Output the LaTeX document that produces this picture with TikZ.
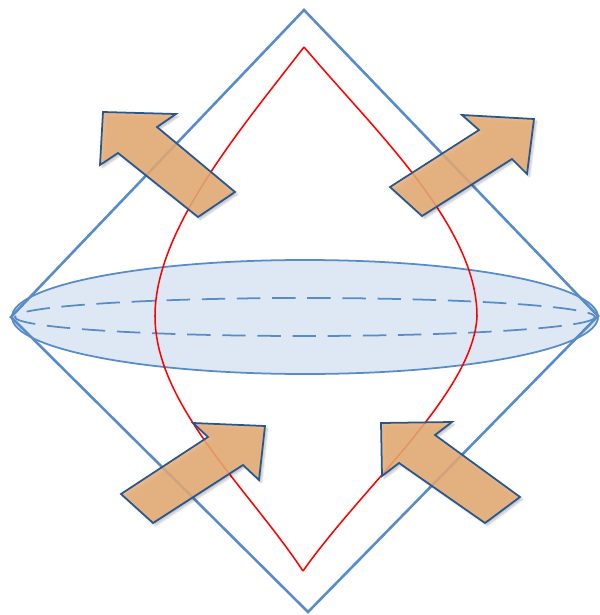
\documentclass[tikz,border=0pt]{standalone}
\usetikzlibrary{shadows.blur}
\definecolor{lineblue}{RGB}{88,140,200}
\definecolor{discfill}{RGB}{222,232,244}
\definecolor{arrowfill}{RGB}{234,174,118}
\definecolor{arrowline}{RGB}{40,86,142}
\begin{document}
\begin{tikzpicture}[x=0.03cm, y=-0.03cm,
    diamondline/.style={line width=2.2pt, lineblue, line join=miter},
    discline/.style={line width=1.5pt, lineblue},
    redline/.style={line width=1.3pt, red},
    pusharrow/.style={line width=1.5pt, draw=arrowline, fill=arrowfill,
      fill opacity=0.85, line join=miter,
      blur shadow={shadow xshift=2pt, shadow yshift=-2pt, shadow blur steps=6, shadow opacity=25}}]
  % 画布（按像素坐标，y 向下）
  \useasboundingbox (0,0) rectangle (600,615);

  % 中心与半轴
  \def\cx{305}
  \def\cy{317}

  % 1. 中间的扁椭圆（圆盘）
  \fill[discfill] (\cx,\cy) ellipse [x radius=293, y radius=57];
  \draw[discline, dash pattern=on 20pt off 10pt] (\cx,\cy) ellipse [x radius=290, y radius=19];
  \draw[discline] (\cx,\cy) ellipse [x radius=293, y radius=57];

  % 2. 外面的菱形
  \draw[diamondline] (304,10) -- (598,316) -- (308,612) -- (11,317) -- cycle;

  % 3. 红色的曲边轮廓
  % 左半边：上顶点 -> 最左 -> 下顶点
  \draw[redline] (304,47) .. controls (240,130) and (155,230) .. (155,316)
                          .. controls (155,405) and (248,488) .. (303,571);
  % 右半边
  \draw[redline] (304,47) .. controls (372,128) and (477,225) .. (477,316)
                          .. controls (474,392) and (362,487) .. (303,571);

  % 4. 四个向外的箭头
  % 左上
  \draw[pusharrow] (103,112) -- (176,114) -- (157,127) -- (235,192)
                   -- (198,217) -- (118,153) -- (100,165) -- cycle;
  % 右上
  \draw[pusharrow] (534,119) -- (527,174) -- (512,159) -- (422,216)
                   -- (390,187) -- (479,130) -- (462,115) -- cycle;
  % 左下
  \draw[pusharrow] (265,426) -- (259,480) -- (243,465) -- (153,523)
                   -- (121,494) -- (208,437) -- (193,423) -- cycle;
  % 右下
  \draw[pusharrow] (381,423) -- (452,422) -- (435,435) -- (520,497)
                   -- (485,523) -- (399,463) -- (382,476) -- cycle;

\end{tikzpicture}
\end{document}
